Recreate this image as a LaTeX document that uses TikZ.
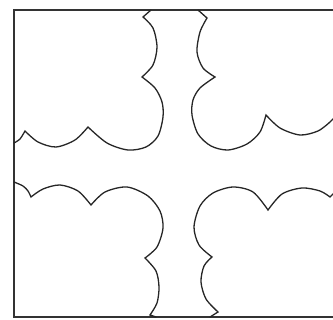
\documentclass[tikz,border=0pt]{standalone}
\begin{document}
\begin{tikzpicture}[x=1pt,y=-1pt,
  shapeline/.style={line width=1.3pt,line join=miter,line cap=round,black!85},
  frameline/.style={line width=1.5pt,black!80}]
\useasboundingbox (0,0) rectangle (333,320);
\clip (0,0) rectangle (333,320);
% frame
\draw[frameline] (340,10) -- (14,10) -- (14,317) -- (340,317);
% top-left piece
\draw[shapeline] (151,10) -- (143,17)
  -- plot[smooth] coordinates {(143,17) (153,28) (157,47) (153,65) (142,77)}
  -- plot[smooth] coordinates {(142,77) (155,88) (162,102) (163,117) (158,136) (146,147) (128,150) (107,143) (88,127)}
  -- plot[smooth] coordinates {(88,127) (75,140) (56,147) (38,142) (25,131)}
  -- plot[smooth] coordinates {(25,131) (20,139) (14,143)};
% top-right piece
\draw[shapeline] (198,10) -- (207,18)
  -- plot[smooth] coordinates {(207,18) (200,32) (197,52) (203,68) (215,77)}
  -- plot[smooth] coordinates {(215,77) (200,88) (193,100) (192,115) (198,134) (211,146) (228,150) (247,144) (260,132) (266,115)}
  -- plot[smooth] coordinates {(266,115) (280,128) (300,135) (318,131) (330,122)}
  -- (338,114);
% bottom-left piece
\draw[shapeline] plot[smooth] coordinates {(14,182) (23,186) (28,191) (31,197)}
  -- plot[smooth] coordinates {(31,197) (43,189) (60,185) (78,191) (91,205)}
  -- plot[smooth] coordinates {(91,205) (105,192) (127,187) (148,196) (160,211) (163,228) (157,247) (145,258)}
  -- plot[smooth] coordinates {(145,258) (156,271) (159,287) (157,303) (150,315)}
  -- (156,317);
% bottom-right piece
\draw[shapeline] (210,317) -- (218,312)
  -- plot[smooth] coordinates {(218,312) (206,299) (201,282) (204,266) (212,257)}
  -- plot[smooth] coordinates {(212,257) (199,245) (194,227) (200,206) (213,193) (233,187) (253,192) (268,210)}
  -- plot[smooth] coordinates {(268,210) (282,194) (302,188) (320,191) (330,197)}
  -- (338,189);
\end{tikzpicture}
\end{document}
